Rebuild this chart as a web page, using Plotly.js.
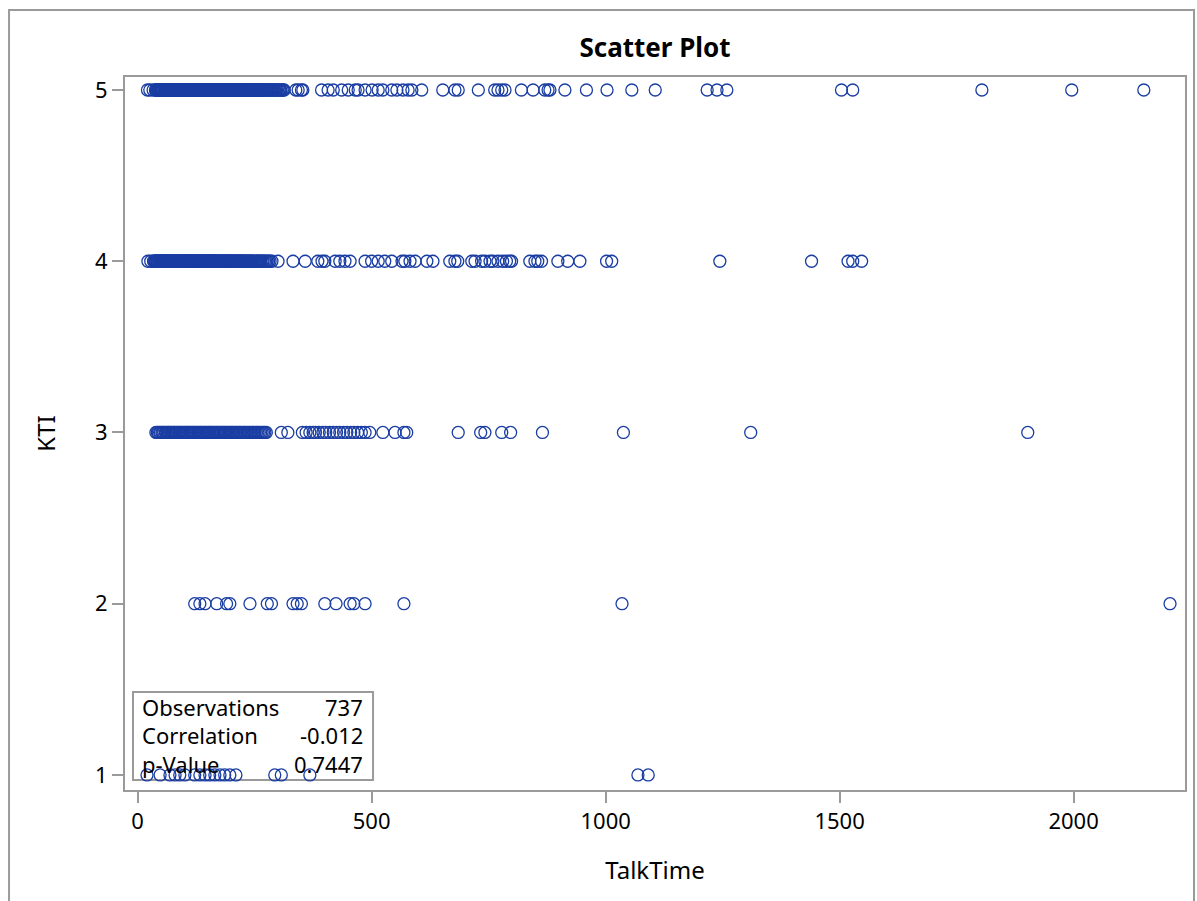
<!DOCTYPE html>
<html>
<head>
<meta charset="utf-8">
<script src="https://cdn.plot.ly/plotly-3.0.1.min.js"></script>
<style>html,body{margin:0;padding:0;background:#fff;}#chart{width:1197px;height:901px;}</style>
</head>
<body>
<div id="chart"></div>
<script>
// TalkTime values for each KTI level (dense bands estimated)
const talkKTI5 = [21, 26, 33,
  38, 39, 40, 42, 43, 44, 45, 47, 48, 49, 50, 52, 53, 54, 56, 57, 58, 59, 61, 62, 63, 64, 66, 67, 68, 70, 71, 72, 73, 75, 76, 77, 78, 80, 81, 82, 84, 85, 86, 87, 89, 90, 91, 92, 94, 95, 96, 98, 99, 100, 101, 103, 104, 105, 106, 108, 109, 110, 112, 113, 114, 115, 117, 118, 119, 120, 122, 123, 124, 126, 127, 128, 129, 131, 132, 133, 134, 136, 137, 138, 140, 141, 142, 143, 145, 146, 147, 148, 150, 151, 152, 154, 155, 156, 157, 159, 160, 161, 163, 164, 165, 166, 168, 169, 170, 172, 173, 174, 175, 177, 178, 179, 181, 182, 183, 185, 186, 187, 189, 190, 191, 193, 194, 195, 197, 198, 199, 201, 202, 204, 205, 206, 208, 209, 211, 212, 213, 215, 216, 218, 219, 221, 222, 224, 225, 227, 228, 230, 231, 233, 234, 236, 237, 239, 240, 242, 244, 245, 247, 248, 250, 252, 253, 255, 257, 258, 260, 262, 263, 265, 267, 269, 270, 272, 274, 276, 278, 279, 281, 283, 285, 287, 289, 291, 293, 295, 297, 299, 302, 304, 306, 309, 311, 313,
  338, 343, 350, 353, 393, 407, 418, 436, 450, 465, 471, 486, 501, 514, 524, 543, 554, 567, 578, 586, 607, 652, 678, 685, 728, 763, 770, 778, 785, 820, 845, 870, 877, 881, 913, 959, 1003, 1056, 1106, 1217, 1238, 1259, 1504, 1528, 1804, 1996, 2150];
const talkKTI4 = [22, 28,
  34, 35, 37, 38, 39, 41, 42, 43, 45, 46, 47, 49, 50, 51, 53, 54, 55, 57, 58, 59, 60, 62, 63, 64, 66, 67, 68, 70, 71, 72, 74, 75, 76, 77, 79, 80, 81, 83, 84, 85, 87, 88, 89, 91, 92, 93, 94, 96, 97, 98, 100, 101, 102, 104, 105, 106, 108, 109, 110, 111, 113, 114, 115, 117, 118, 119, 121, 122, 123, 125, 126, 127, 128, 130, 131, 132, 134, 135, 136, 138, 139, 140, 142, 143, 144, 145, 147, 148, 149, 151, 152, 153, 155, 156, 157, 159, 160, 161, 162, 164, 165, 166, 168, 169, 170, 172, 173, 175, 176, 178, 179, 181, 182, 184, 185, 187, 188, 190, 191, 193, 194, 196, 197, 199, 200, 202, 204, 205, 207, 208, 210, 212, 213, 215, 217, 218, 220, 222, 224, 225, 227, 229, 231, 233, 235, 237, 239, 241, 243, 245, 247, 249, 251, 254, 256, 258, 261, 263, 266, 268, 271, 274, 277, 280, 283, 287,
  300, 332, 358, 385, 394, 400, 422, 432, 443, 454, 486, 500, 514, 528, 543, 565, 571, 582, 593, 618, 631, 667, 678, 684, 714, 721, 735, 742, 753, 759, 770, 780, 788, 795, 799, 838, 849, 855, 863, 898, 919, 945, 1002, 1013, 1244, 1440, 1518, 1528, 1547];
const talkKTI3 = [39, 42, 44, 47, 49, 52, 54, 56, 59, 61, 64, 66, 68, 71, 73, 76, 78, 80, 83, 85, 88, 90, 92, 95, 97, 100, 102, 105, 107, 109, 112, 114, 117, 119, 121, 124, 126, 129, 131, 134, 136, 138, 141, 143, 146, 148, 151, 153, 155, 158, 160, 163, 165, 168, 170, 173, 175, 178, 180, 183, 185, 188, 190, 193, 196, 198, 201, 203, 206, 209, 211, 214, 217, 219, 222, 225, 228, 230, 233, 236, 239, 242, 245, 248, 251, 254, 257, 260, 263, 266, 269, 272, 275,
  307, 321, 352, 360, 368, 375, 380, 388, 396, 402, 410, 418, 425, 432, 440, 447, 455, 462, 470, 478, 486, 496, 524, 550, 569, 575, 685, 733, 742, 778, 797, 865, 1038, 1310, 1902];
const talkKTI2 = [122, 133, 144, 169, 190, 197, 240, 277, 286, 332, 341, 350, 400, 424, 454, 462, 486, 569, 1035, 2206];
const talkKTI1 = [20, 48, 69, 80, 90, 101, 122, 133, 144, 154, 165, 176, 186, 197, 210, 293, 307, 368, 1069, 1091];
const ktiLevels = [5, 4, 3, 2, 1];
const xTickVals = [0, 500, 1000, 1500, 2000];
const yTickVals = [1, 2, 3, 4, 5];
const statLabels = ["Observations", "Correlation", "p-Value"];
const statValues = ["737", "-0.012", "0.7447"];

const groups = [talkKTI5, talkKTI4, talkKTI3, talkKTI2, talkKTI1];
const xs = [], ys = [];
groups.forEach((g, i) => g.forEach(v => { xs.push(v); ys.push(ktiLevels[i]); }));

const FONT = "Noto Sans, DejaVu Sans, sans-serif";
const gray = "#9a9a9a";
const markerColor = "#1a3da3";

const trace = {
  type: "scatter", mode: "markers", x: xs, y: ys,
  marker: {symbol: "circle-open", size: 12, color: markerColor, line: {width: 1.3, color: markerColor}},
  hoverinfo: "x+y", showlegend: false
};

// stats box layout (paper coords)
const rowY = [0.1164, 0.0771, 0.0365];
const annotations = [];
statLabels.forEach((s, i) => {
  annotations.push({xref: "paper", yref: "paper", x: 0.014, y: rowY[i], xanchor: "left", yanchor: "middle",
    text: s, showarrow: false, font: {family: FONT, size: 22, color: "#000"}});
  annotations.push({xref: "paper", yref: "paper", x: 0.2264, y: rowY[i], xanchor: "right", yanchor: "middle",
    text: statValues[i], showarrow: false, font: {family: FONT, size: 22, color: "#000"}});
});

const layout = {
  width: 1197, height: 901,
  margin: {l: 125, r: 12, t: 77, b: 111, pad: 0},
  paper_bgcolor: "#fff", plot_bgcolor: "#fff",
  font: {family: FONT, size: 22, color: "#000"},
  title: {text: "<b>Scatter Plot</b>", font: {family: FONT, size: 26, color: "#000"},
          x: 0.5, xref: "paper", y: 0.947, yref: "container", yanchor: "middle"},
  xaxis: {
    range: [-27, 2238], tickvals: xTickVals, ticktext: xTickVals.map(String),
    showgrid: false, zeroline: false, showline: true, mirror: true, linecolor: gray, linewidth: 2,
    ticks: "outside", ticklen: 11, tickwidth: 2, tickcolor: gray,
    tickfont: {family: FONT, size: 22, color: "#000"},
    title: {text: "TalkTime", font: {family: FONT, size: 24, color: "#000"}, standoff: 28}
  },
  yaxis: {
    range: [0.912, 5.076], tickvals: yTickVals, ticktext: yTickVals.map(String),
    showgrid: false, zeroline: false, showline: true, mirror: true, linecolor: gray, linewidth: 2,
    ticks: "outside", ticklen: 11, tickwidth: 2, tickcolor: gray,
    tickfont: {family: FONT, size: 22, color: "#000"},
    title: {text: "KTI", font: {family: FONT, size: 24, color: "#000"}, standoff: 33}
  },
  shapes: [
    {type: "rect", xref: "paper", yref: "paper", x0: -0.1094, x1: 1.0085, y0: -0.161, y1: 1.094,
     line: {color: gray, width: 2}, fillcolor: "rgba(0,0,0,0)", layer: "below"},
    {type: "rect", xref: "paper", yref: "paper", x0: 0.00755, x1: 0.234, y0: 0.014, y1: 0.1374,
     line: {color: gray, width: 2}, fillcolor: "#fff", layer: "below"}
  ],
  annotations: annotations
};

Plotly.newPlot("chart", [trace], layout, {displayModeBar: false, staticPlot: true});
</script>
</body>
</html>
